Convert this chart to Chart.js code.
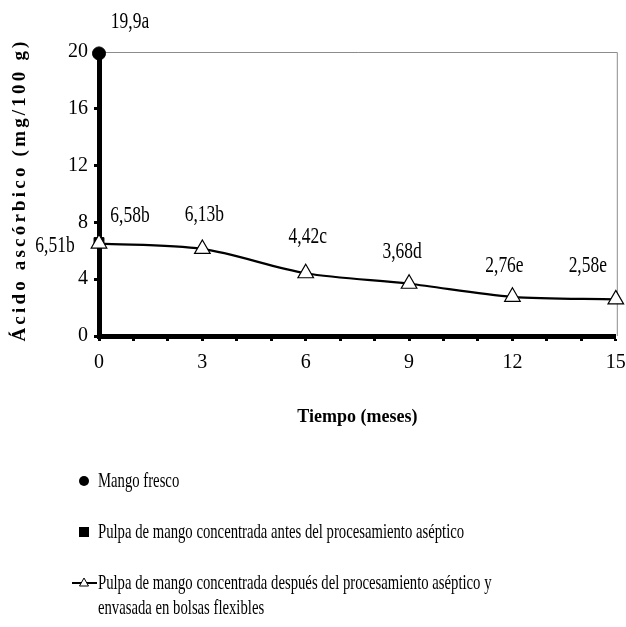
<!DOCTYPE html>
<html lang="es">
<head>
<meta charset="UTF-8">
<title>Ácido ascórbico en pulpa de mango</title>
<script src="https://cdn.jsdelivr.net/npm/chart.js"></script>
<style>
  body { margin: 0; background: #fff; }
  #wrap { width: 626px; height: 627px; }
</style>
</head>
<body>
<div id="wrap"><canvas id="chart"></canvas></div>
<script>
// datos
const meses = [0, 3, 6, 9, 12, 15];
const pulpaDespues = [6.51, 6.13, 4.42, 3.68, 2.76, 2.58];
const etiquetasDespues = ['6,51b', '6,13b', '4,42c', '3,68d', '2,76e', '2,58e'];
const mesFresco = [0];
const mangoFresco = [19.9];
const etiquetasFresco = ['19,9a'];
const mesAntes = [0];
const pulpaAntes = [6.58];
const etiquetasAntes = ['6,58b'];
const xTicks = [0, 3, 6, 9, 12, 15];
const yTicks = [0, 4, 8, 12, 16, 20];
const nombres = [
  'Mango fresco',
  'Pulpa de mango concentrada antes del procesamiento aséptico',
  'Pulpa de mango concentrada después del procesamiento aséptico y envasada en bolsas flexibles'
];
const tituloX = 'Tiempo (meses)';
const tituloY = 'Ácido ascórbico (mg/100 g)';

const FONT = '"Liberation Serif", "Times New Roman", serif';

function texto(ctx, s, x, y, size, align, sx) {
  ctx.save();
  ctx.font = size + 'px ' + FONT;
  ctx.fillStyle = '#000';
  ctx.textBaseline = 'middle';
  ctx.textAlign = align;
  ctx.translate(x, y);
  ctx.scale(sx, 1);
  ctx.fillText(s, 0, 0);
  ctx.restore();
}

// offsets of the value labels, per dataset / point
const posEtiquetas = [
  [{dx: 31, dy: -31}],
  [{dx: 31, dy: -27}],
  [{dx: -44, dy: 2}, {dx: 2, dy: -34}, {dx: 2, dy: -36},
   {dx: -7, dy: -32}, {dx: -8, dy: -31}, {dx: -28, dy: -33}]
];

const etiquetasPlugin = {
  id: 'etiquetas',
  afterDatasetsDraw(chart) {
    const ctx = chart.ctx;
    chart.data.datasets.forEach((ds, i) => {
      const meta = chart.getDatasetMeta(i);
      meta.data.forEach((pt, j) => {
        const p = posEtiquetas[i][j];
        texto(ctx, ds.etiquetas[j], pt.x + p.dx, pt.y + p.dy, 23, 'center', 0.76);
      });
    });
  }
};

const marcoPlugin = {
  id: 'marco',
  beforeDatasetsDraw(chart) {
    const a = chart.chartArea, ctx = chart.ctx;
    ctx.save();
    ctx.strokeStyle = '#8c8c8c';
    ctx.lineWidth = 1;
    ctx.beginPath();
    ctx.moveTo(a.left, a.top + 0.5);
    ctx.lineTo(a.right + 1.5, a.top + 0.5);
    ctx.lineTo(a.right + 1.5, a.bottom);
    ctx.stroke();
    ctx.restore();
  },
  afterDraw(chart) {
    const ctx = chart.ctx, a = chart.chartArea;
    // titulo eje Y
    ctx.save();
    ctx.translate(20, (a.top + a.bottom) / 2 - 4);
    ctx.rotate(-Math.PI / 2);
    ctx.font = 'bold 19px ' + FONT;
    ctx.letterSpacing = '3.2px';
    ctx.fillStyle = '#000';
    ctx.textAlign = 'center';
    ctx.textBaseline = 'middle';
    ctx.fillText(tituloY, 0, 0);
    ctx.restore();
  }
};

const leyendaPlugin = {
  id: 'leyenda',
  afterDraw(chart) {
    const ctx = chart.ctx;
    const ys = [481, 532, 583];
    const mx = 84, tx = 98, maxW = 400, sx = 0.7, fs = 21;
    chart.data.datasets.forEach((ds, i) => {
      const y = ys[i];
      ctx.save();
      ctx.fillStyle = '#000';
      ctx.strokeStyle = '#000';
      if (ds.pointStyle === 'circle') {
        ctx.beginPath();
        ctx.arc(mx, y, 5, 0, Math.PI * 2);
        ctx.fill();
      } else if (ds.pointStyle === 'rect') {
        ctx.fillRect(mx - 5, y - 5, 10, 10);
      } else {
        ctx.lineWidth = 2;
        ctx.beginPath();
        ctx.moveTo(72, y);
        ctx.lineTo(97, y);
        ctx.stroke();
        ctx.lineWidth = 1;
        ctx.fillStyle = '#fff';
        ctx.beginPath();
        ctx.moveTo(mx, y - 5);
        ctx.lineTo(mx + 4.5, y + 3);
        ctx.lineTo(mx - 4.5, y + 3);
        ctx.closePath();
        ctx.fill();
        ctx.stroke();
      }
      ctx.restore();
      // texto con ajuste de linea
      ctx.save();
      ctx.font = fs + 'px ' + FONT;
      const words = ds.label.split(' ');
      const lines = [];
      let cur = '';
      words.forEach(w => {
        const t = cur ? cur + ' ' + w : w;
        if (ctx.measureText(t).width * sx > maxW && cur) { lines.push(cur); cur = w; }
        else cur = t;
      });
      lines.push(cur);
      ctx.restore();
      lines.forEach((l, k) => texto(ctx, l, tx, y + k * 25, fs, 'left', sx));
    });
  }
};

const ctx = document.getElementById('chart').getContext('2d');
new Chart(ctx, {
  type: 'line',
  data: {
    datasets: [
      {
        label: nombres[0],
        data: mesFresco.map((m, i) => ({x: m, y: mangoFresco[i]})),
        etiquetas: etiquetasFresco,
        showLine: false,
        pointStyle: 'circle',
        pointRadius: 6.5,
        pointBackgroundColor: '#000',
        pointBorderColor: '#000',
        clip: false,
        order: 2
      },
      {
        label: nombres[1],
        data: mesAntes.map((m, i) => ({x: m, y: pulpaAntes[i]})),
        etiquetas: etiquetasAntes,
        showLine: false,
        pointStyle: 'rect',
        pointRadius: 7,
        pointBackgroundColor: '#000',
        pointBorderColor: '#000',
        clip: false,
        order: 3
      },
      {
        label: nombres[2],
        data: meses.map((m, i) => ({x: m, y: pulpaDespues[i]})),
        etiquetas: etiquetasDespues,
        borderColor: '#000',
        borderWidth: 2.2,
        tension: 0.3,
        pointStyle: 'triangle',
        pointRadius: 9,
        pointBorderWidth: 1.2,
        pointBackgroundColor: '#fff',
        pointBorderColor: '#000',
        clip: false,
        order: 1
      }
    ]
  },
  options: {
    responsive: true,
    maintainAspectRatio: false,
    animation: false,
    layout: { padding: { top: 52, right: 10, bottom: 195, left: 0 } },
    plugins: {
      legend: { display: false },
      tooltip: { enabled: false }
    },
    scales: {
      x: {
        type: 'linear',
        min: 0,
        max: 15,
        afterFit: s => { s.height = 96; s.paddingRight = 0; s.paddingLeft = 0; },
        ticks: {
          stepSize: 1,
          autoSkip: false,
          maxRotation: 0,
          padding: 10,
          color: '#000',
          font: { family: FONT, size: 20 },
          callback: v => xTicks.includes(v) ? String(v) : ''
        },
        grid: { drawOnChartArea: false, drawTicks: true, tickLength: 5, tickColor: '#000', tickWidth: 3 },
        border: { color: '#000', width: 5 },
        title: {
          display: true,
          text: tituloX,
          color: '#000',
          font: { family: FONT, size: 18, weight: 'bold' },
          padding: { top: 0, bottom: 4 }
        }
      },
      y: {
        min: 0,
        max: 20,
        afterFit: s => { s.width = 99; },
        afterBuildTicks: s => { s.ticks = yTicks.map(v => ({value: v})); },
        ticks: {
          padding: 6,
          color: '#000',
          font: { family: FONT, size: 20 }
        },
        grid: { drawOnChartArea: false, drawTicks: true, tickLength: 5, tickColor: '#000', tickWidth: 3 },
        border: { color: '#000', width: 5 }
      }
    }
  },
  plugins: [marcoPlugin, etiquetasPlugin, leyendaPlugin]
});
</script>
</body>
</html>
